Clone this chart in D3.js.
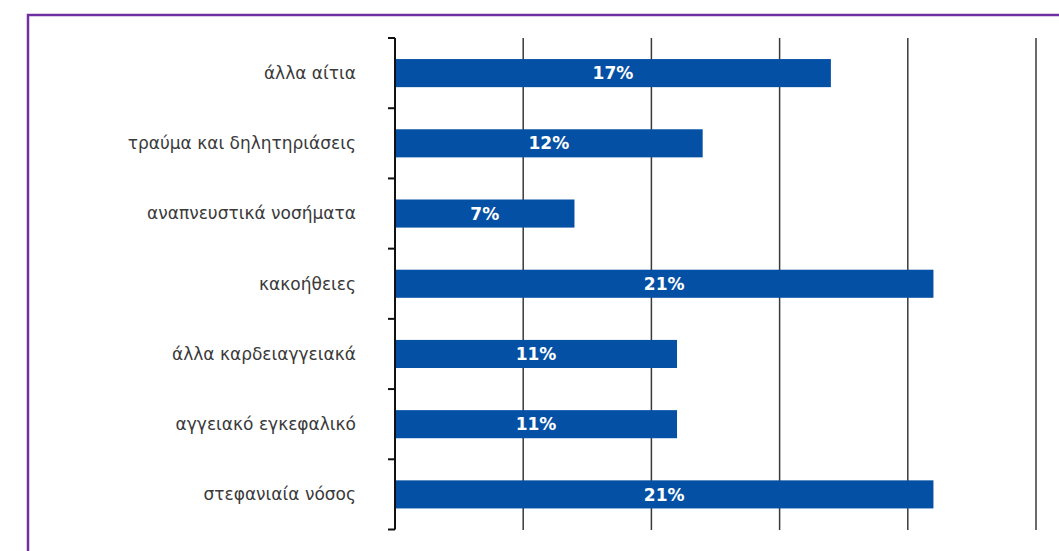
<!DOCTYPE html>
<html>
<head>
<meta charset="utf-8">
<script src="https://cdn.jsdelivr.net/npm/d3@7"></script>
<style>
  html, body { margin: 0; padding: 0; background: #fff; }
  svg { display: block; }
</style>
</head>
<body>
<svg id="chart" width="1059" height="551"></svg>
<script>
// Causes of death, share of total (%), listed top to bottom
const categories = [
  "άλλα αίτια",
  "τραύμα και δηλητηριάσεις",
  "αναπνευστικά νοσήματα",
  "κακοήθειες",
  "άλλα καρδειαγγειακά",
  "αγγειακό εγκεφαλικό",
  "στεφανιαία νόσος"
];
const values = [17, 12, 7, 21, 11, 11, 21];
const gridTicks = [5, 10, 15, 20, 25];

const svg = d3.select("#chart");

// purple frame that runs off the right and bottom edges
svg.append("rect")
  .attr("x", 28).attr("y", 15)
  .attr("width", 1200).attr("height", 700)
  .attr("fill", "none")
  .attr("stroke", "#7030a0")
  .attr("stroke-width", 2.5);

const x = d3.scaleLinear().domain([0, 25]).range([395, 1036]);
const y = d3.scaleBand()
  .domain(categories)
  .range([38, 529.5])
  .paddingInner(0.6)
  .paddingOuter(0.3);

// vertical gridlines
svg.append("g")
  .selectAll("line")
  .data(gridTicks)
  .join("line")
  .attr("x1", d => x(d)).attr("x2", d => x(d))
  .attr("y1", 38).attr("y2", 530)
  .attr("stroke", "#3a3a3a")
  .attr("stroke-width", 1.5);

// bars
svg.append("g")
  .selectAll("rect")
  .data(categories)
  .join("rect")
  .attr("x", x(0))
  .attr("y", d => y(d))
  .attr("width", (d, i) => x(values[i]) - x(0))
  .attr("height", y.bandwidth())
  .attr("fill", "#0450a4");

// value labels
svg.append("g")
  .selectAll("text")
  .data(categories)
  .join("text")
  .attr("x", (d, i) => (x(0) + x(values[i])) / 2)
  .attr("y", d => y(d) + y.bandwidth() / 2)
  .attr("dy", "0.36em")
  .attr("text-anchor", "middle")
  .attr("fill", "#fff")
  .attr("font-family", "'DejaVu Sans', sans-serif")
  .attr("font-weight", "bold")
  .attr("font-size", 17)
  .text((d, i) => values[i] + "%");

// category axis with tick marks between bands
const step = y.step();
const bounds = categories.map(d => y(d) - step * y.paddingInner() / 2)
  .concat([y(categories[categories.length - 1]) + y.bandwidth() + step * y.paddingInner() / 2]);

const axis = svg.append("g");
axis.append("line")
  .attr("x1", x(0)).attr("x2", x(0))
  .attr("y1", bounds[0]).attr("y2", bounds[bounds.length - 1])
  .attr("stroke", "#111")
  .attr("stroke-width", 2);
axis.selectAll("line.tick")
  .data(bounds)
  .join("line")
  .attr("class", "tick")
  .attr("x1", x(0) - 7).attr("x2", x(0))
  .attr("y1", d => d).attr("y2", d => d)
  .attr("stroke", "#111")
  .attr("stroke-width", 2);

axis.selectAll("text")
  .data(categories)
  .join("text")
  .attr("x", 356)
  .attr("y", d => y(d) + y.bandwidth() / 2)
  .attr("dy", "0.35em")
  .attr("text-anchor", "end")
  .attr("fill", "#3a3a3a")
  .attr("font-family", "'DejaVu Sans', sans-serif")
  .attr("font-size", 17)
  .text(d => d);
</script>
</body>
</html>
